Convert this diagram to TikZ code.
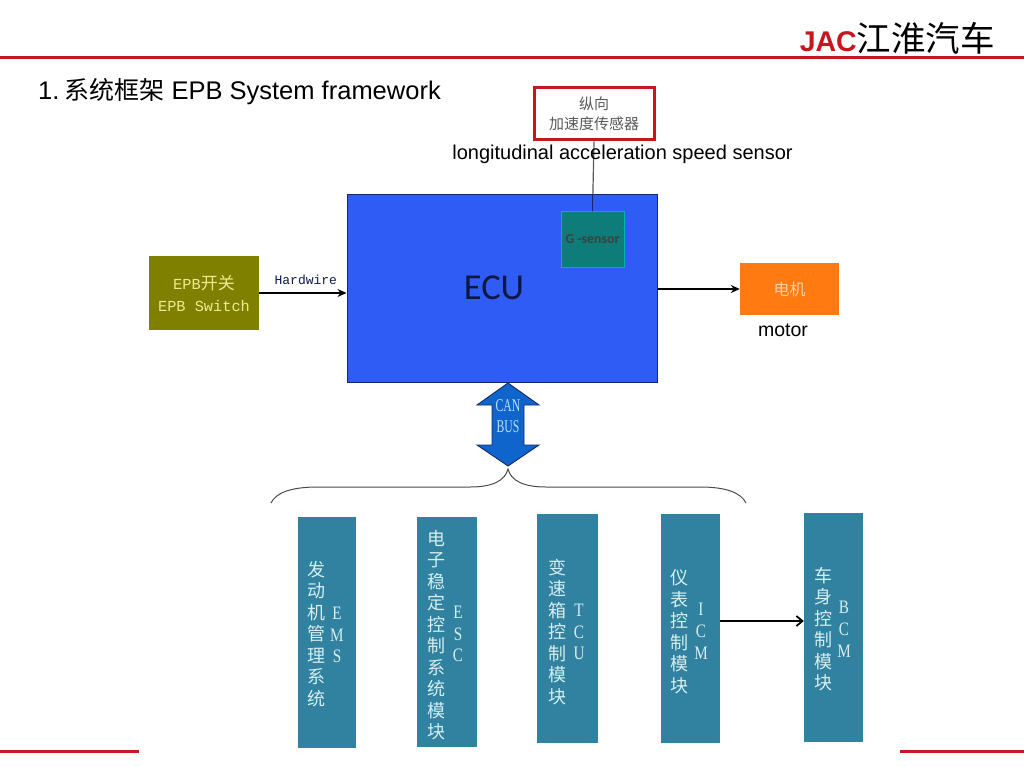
\documentclass[tikz,border=0pt]{standalone}
\usepackage{fontspec}
\usepackage{xcolor}
\usepackage{tikz}
\usetikzlibrary{arrows.meta,calc}
\setmainfont{Liberation Sans}
\newfontfamily\cjk{Noto Sans CJK SC}
\newfontfamily\monof{Liberation Mono}
\newfontfamily\serifn[FakeStretch=0.8]{Liberation Serif}
\newfontfamily\serifc[FakeStretch=0.65]{Liberation Serif}
\newfontfamily\carl{Carlito}
\definecolor{figred}{RGB}{200,22,30}
\definecolor{figbar}{RGB}{48,130,160}
\definecolor{figbarl}{RGB}{214,238,240}
\definecolor{figecu}{RGB}{47,92,245}
\definecolor{fignavy}{RGB}{20,40,110}
\definecolor{figteal}{RGB}{14,124,120}
\definecolor{figolive}{RGB}{128,128,0}
\definecolor{figpale}{RGB}{235,235,150}
\definecolor{figorange}{RGB}{255,122,16}
\definecolor{figbus}{RGB}{15,101,204}
\definecolor{figbusl}{RGB}{185,222,252}
\tikzset{
  bar/.style  ={fill=figbar, inner sep=0pt},
  barc/.style ={text=figbarl, align=center, inner sep=0pt, font=\cjk\fontsize{18}{21.5}\selectfont},
  barl/.style ={text=figbarl, align=center, inner sep=0pt, font=\serifn\fontsize{19}{21.8}\selectfont},
  lab/.style  ={font=\fontsize{19.5}{22}\selectfont, inner sep=0pt},
  wire/.style ={draw=black, line width=1.8pt, -{Stealth[length=9pt,width=8pt]}},
  rule/.style ={draw=figred, line width=3pt},
}
\begin{document}
\begin{tikzpicture}[x=1pt,y=-1pt]
  \fill[white] (0,0) rectangle (1024,767);
  \useasboundingbox (0,0) rectangle (1024,767);
  % header and footer
  \draw[rule] (0,58) -- (1024,58);
  \draw[rule,line width=2.2pt] (0,751.5) -- (139,751.5);
  \draw[rule,line width=2.2pt] (900,751.5) -- (1024,751.5);
  \node[anchor=east,inner sep=0pt,font=\fontsize{28.5}{30}\selectfont] (logo) at (995,38) {\textcolor{figred}{\textbf{JAC}}{\cjk\fontsize{34.5}{36}\selectfont 江淮汽车}};
  \node[anchor=west,inner sep=0pt,font=\fontsize{25.5}{28}\selectfont] (title) at (38,92) {1.\hspace{5pt}{\cjk\fontsize{25}{28}\selectfont 系统框架} EPB System framework};
  % sensor
  \node[draw=figred,line width=3pt,fill=white,minimum width=120pt,minimum height=52pt,inner sep=0pt,align=center,text=black!65,font=\cjk\fontsize{15}{20}\selectfont] (sensor) at (594,114) {纵向\\加速度传感器};
  % ECU
  \node[draw=fignavy,fill=figecu,line width=1pt,minimum width=310pt,minimum height=187pt,inner sep=0pt] (ecu) at (502,288.5) {};
  \node[inner sep=0pt,text=fignavy!60!black,font=\carl\fontsize{36.5}{38}\selectfont] (ecutxt) at (494,288) {ECU};
  \node[draw=teal!60!cyan,fill=figteal,line width=1pt,minimum width=63pt,minimum height=55pt,inner sep=0pt,text=black!75,font=\carl\bfseries\fontsize{13.8}{15}\selectfont] (gsensor) at (592.5,239.5) {G -sensor};
  \draw[draw=black!65,line width=1.2pt] (sensor.south) -- (gsensor.north);
  \draw[draw=fignavy,line width=1.2pt] (gsensor.north |- ecu.north) -- (gsensor.north);
  \node[lab,font=\fontsize{20}{22}\selectfont] (senslab) at (622.5,154) {longitudinal acceleration speed sensor};
  % switch and motor
  \node[fill=figolive,minimum width=110pt,minimum height=74pt,inner sep=0pt,align=center,text=figpale,font=\monof\fontsize{15.3}{22}\selectfont] (switch) at (204,293) {EPB{\cjk\fontsize{17}{22}\selectfont 开关}\\EPB Switch};
  \node[fill=figorange,minimum width=99pt,minimum height=52pt,inner sep=0pt,text=orange!35!white,font=\cjk\fontsize{16}{18}\selectfont] (motor) at (789.5,289) {电机};
  \node[lab] (motorlab) at (783,330) {motor};
  \draw[wire] (switch.east) -- (switch.east -| ecu.west) node[midway,above=7pt,xshift=3pt,inner sep=0pt,text=fignavy!70!black,font=\monof\fontsize{13}{15}\selectfont] (hardwire) {Hardwire};
  \draw[wire] (motor.west -| ecu.east) -- (motor.west);
  % bus arrow
  \draw[draw=fignavy,fill=figbus,line width=0.9pt] (508,383) -- (539,405) -- (524,405) -- (524,445) -- (539,445) -- (508,466) -- (477,445) -- (492,445) -- (492,405) -- (477,405) -- cycle;
  \node[inner sep=0pt,align=center,text=figbusl,font=\serifc\fontsize{18}{21}\selectfont] (canbus) at (508,416) {CAN\\BUS};
  % brace
  \draw[draw=black!70,line width=1pt] (271,503) .. controls (276,493) and (290,487) .. (318,487) -- (470,487) .. controls (492,487) and (505,481) .. (508,469) .. controls (511,481) and (524,487) .. (546,487) -- (700,487) .. controls (727,487) and (741,493) .. (746,503);
  % modules
  \node[bar,minimum width=58pt,minimum height=231pt] (ems) at (327,632.5) {};
  \node[bar,minimum width=60pt,minimum height=230pt] (esc) at (447,632) {};
  \node[bar,minimum width=61pt,minimum height=229pt] (tcu) at (567.5,628.5) {};
  \node[bar,minimum width=59pt,minimum height=229pt] (icm) at (690.5,628.5) {};
  \node[bar,minimum width=59pt,minimum height=229pt] (bcm) at (833.5,627.5) {};
  \node[barc] (emsc) at (316,634) {发\\动\\机\\管\\理\\系\\统};
  \node[barl] (emsl) at (337,635) {E\\M\\S};
  \node[barc] (escc) at (436,635) {电\\子\\稳\\定\\控\\制\\系\\统\\模\\块};
  \node[barl] (escl) at (458,634) {E\\S\\C};
  \node[barc] (tcuc) at (557,632) {变\\速\\箱\\控\\制\\模\\块};
  \node[barl] (tcul) at (579,632) {T\\C\\U};
  \node[barc] (icmc) at (679,631.5) {仪\\表\\控\\制\\模\\块};
  \node[barl] (icml) at (701,631.5) {I\\C\\M};
  \node[barc] (bcmc) at (823,629) {车\\身\\控\\制\\模\\块};
  \node[barl] (bcml) at (844,629.5) {B\\C\\M};
  \coordinate (link) at (0,621);
  \draw[draw=black,line width=1.8pt,-{Straight Barb[length=6pt,width=10pt]}] (link -| icm.east) -- (link -| bcm.west);
\end{tikzpicture}
\end{document}
